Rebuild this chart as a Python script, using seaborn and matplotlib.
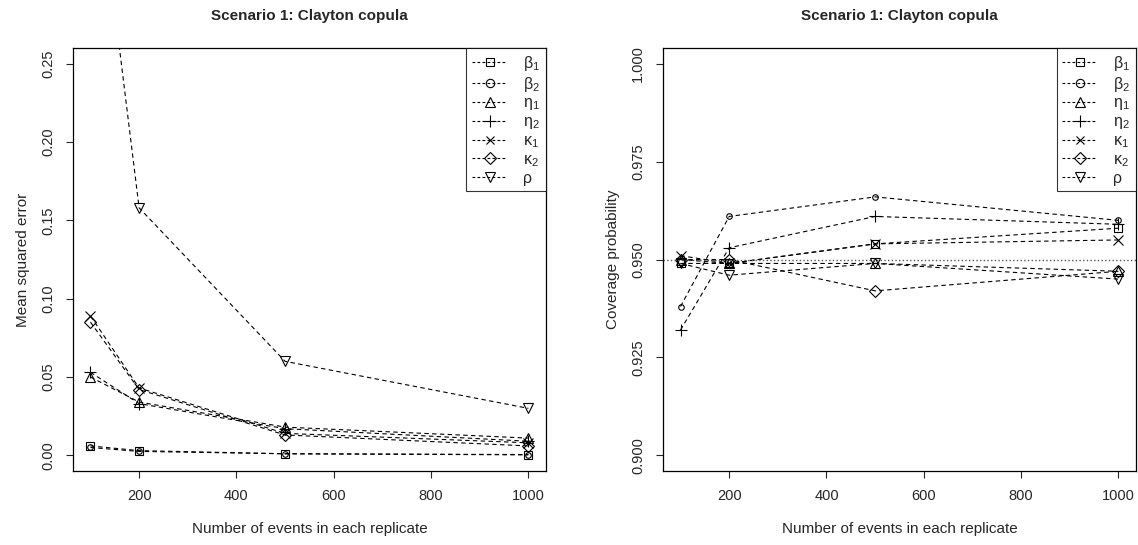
import numpy as np
import pandas as pd
import seaborn as sns
import matplotlib.pyplot as plt
from matplotlib.lines import Line2D

sns.set_style("white")
plt.rcParams['font.family'] = ['Liberation Sans', 'DejaVu Sans']
plt.rcParams['mathtext.fontset'] = 'custom'
plt.rcParams['mathtext.rm'] = 'Liberation Sans'

# Data
n_events = [100, 200, 500, 1000]
params = ['beta1', 'beta2', 'eta1', 'eta2', 'kappa1', 'kappa2', 'rho']
labels = ['β$_1$', 'β$_2$', 'η$_1$', 'η$_2$', 'κ$_1$', 'κ$_2$', 'ρ']

mse_beta1 = [0.006, 0.003, 0.001, 0.0005]
mse_beta2 = [0.005, 0.0025, 0.001, 0.0003]
mse_eta1 = [0.050, 0.034, 0.018, 0.011]
mse_eta2 = [0.053, 0.033, 0.017, 0.009]
mse_kappa1 = [0.089, 0.043, 0.014, 0.008]
mse_kappa2 = [0.085, 0.042, 0.013, 0.006]
mse_rho = [0.41, 0.158, 0.060, 0.030]

cp_beta1 = [0.949, 0.949, 0.954, 0.958]
cp_beta2 = [0.938, 0.961, 0.966, 0.960]
cp_eta1 = [0.950, 0.949, 0.949, 0.947]
cp_eta2 = [0.932, 0.953, 0.961, 0.959]
cp_kappa1 = [0.951, 0.949, 0.954, 0.955]
cp_kappa2 = [0.950, 0.950, 0.942, 0.947]
cp_rho = [0.949, 0.946, 0.949, 0.945]

mse = [mse_beta1, mse_beta2, mse_eta1, mse_eta2, mse_kappa1, mse_kappa2, mse_rho]
cover = [cp_beta1, cp_beta2, cp_eta1, cp_eta2, cp_kappa1, cp_kappa2, cp_rho]

def long_df(values):
    rows = []
    for p, vals in zip(params, values):
        for n, v in zip(n_events, vals):
            rows.append({'n': n, 'param': p, 'value': v})
    return pd.DataFrame(rows)

df_mse = long_df(mse)
df_cp = long_df(cover)

# R pch 0..6
marker_map = dict(zip(params, ['s', 'o', '^', '+', 'x', 'D', 'v']))
size_map = dict(zip(params, [6, 4, 7, 9, 7, 6, 7]))
leg_size = dict(zip(params, [6, 6, 7, 9, 6, 6, 7]))
dash_map = {p: (4, 3) for p in params}

fig = plt.figure(figsize=(11.38, 5.45), dpi=100)
ax1 = fig.add_axes([0.0641, 0.1358, 0.4156, 0.776])
ax2 = fig.add_axes([0.5826, 0.1358, 0.4156, 0.776])

def draw(ax, df):
    for p in params:
        sub = df[df['param'] == p]
        sns.lineplot(data=sub, x='n', y='value', ax=ax, color='black',
                     linewidth=0.8, marker=marker_map[p], markersize=size_map[p],
                     markerfacecolor='none', markeredgecolor='black',
                     markeredgewidth=0.8, dashes=dash_map[p], legend=False)
    ax.set_xlim(64, 1036)
    ax.set_xticks([200, 400, 600, 800, 1000])
    ax.set_xlabel('Number of events in each replicate', fontsize=11, labelpad=14)
    ax.set_title('Scenario 1: Clayton copula', fontsize=11, fontweight='bold', pad=20)
    ax.tick_params(axis='both', direction='out', length=5, width=0.8,
                   labelsize=10.5, bottom=True, left=True, pad=8)
    for s in ax.spines.values():
        s.set_color('black')
        s.set_linewidth(0.9)
    handles = [Line2D([], [], color='black', linestyle=(0, (2.5, 2)), linewidth=0.8,
                      marker=marker_map[p], markersize=leg_size[p],
                      markerfacecolor='none', markeredgecolor='black',
                      markeredgewidth=0.8) for p in params]
    leg = ax.legend(handles, labels, loc='upper right', fontsize=11.5,
                    frameon=True, fancybox=False, borderaxespad=0,
                    handlelength=2.2, handletextpad=1.0, labelspacing=0.12,
                    borderpad=0.35)
    leg.get_frame().set_edgecolor('black')
    leg.get_frame().set_linewidth(0.8)

draw(ax1, df_mse)
ax1.set_ylim(-0.01, 0.26)
ax1.set_yticks([0.00, 0.05, 0.10, 0.15, 0.20, 0.25])
ax1.set_yticklabels(['0.00', '0.05', '0.10', '0.15', '0.20', '0.25'], rotation=90, va='center')
ax1.set_ylabel('Mean squared error', fontsize=11, labelpad=8)

draw(ax2, df_cp)
ax2.axhline(0.95, color='#555555', linestyle=':', linewidth=1.0)
ax2.set_ylim(0.896, 1.004)
ax2.set_yticks([0.900, 0.925, 0.950, 0.975, 1.000])
ax2.set_yticklabels(['0.900', '0.925', '0.950', '0.975', '1.000'], rotation=90, va='center')
ax2.set_ylabel('Coverage probability', fontsize=11, labelpad=8)

fig.savefig('out.png', dpi=100)
